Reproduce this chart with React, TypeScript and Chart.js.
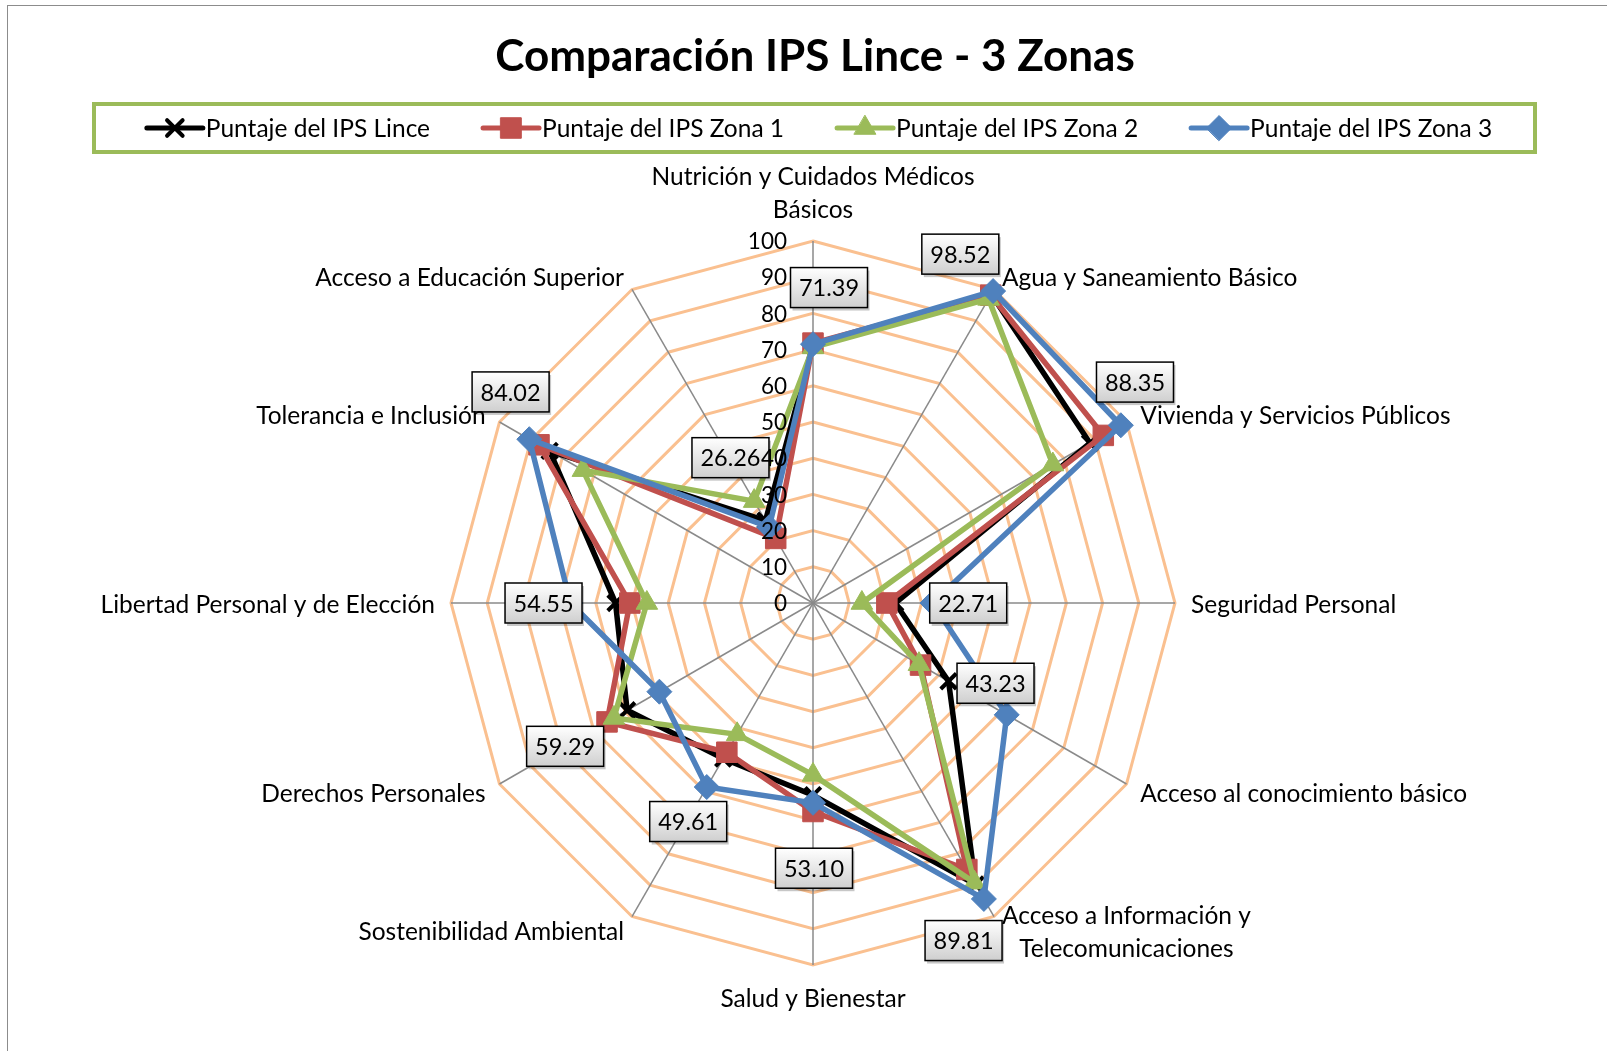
import { useEffect, useRef } from "react";
import { Chart, registerables } from "chart.js";
import { drawPoint } from "chart.js/helpers";

Chart.register(...registerables);

// ---------- data ----------
const titleText = "Comparación IPS Lince - 3 Zonas";

const categories: (string | string[])[] = [
  ["Nutrición y Cuidados Médicos", "Básicos"],
  "Agua y Saneamiento Básico",
  "Vivienda y Servicios Públicos",
  "Seguridad Personal",
  "Acceso al conocimiento básico",
  ["Acceso a Información y", "Telecomunicaciones"],
  "Salud y Bienestar",
  "Sostenibilidad Ambiental",
  "Derechos Personales",
  "Libertad Personal y de Elección",
  "Tolerancia e Inclusión",
  "Acceso a Educación Superior",
];

const seriesNames = [
  "Puntaje del IPS Lince",
  "Puntaje del IPS Zona 1",
  "Puntaje del IPS Zona 2",
  "Puntaje del IPS Zona 3",
];

const linceValues = [71.39, 98.52, 88.35, 22.71, 43.23, 89.81, 53.1, 49.61, 59.29, 54.55, 84.02, 26.26];
const zona1Values = [71.8, 98.2, 92.6, 20.4, 34.3, 85.0, 57.6, 47.6, 65.7, 50.6, 87.4, 20.6];
const zona2Values = [70.6, 97.0, 76.5, 13.5, 33.8, 89.2, 47.5, 41.9, 63.5, 45.9, 73.4, 32.5];
const zona3Values = [71.5, 99.5, 98.2, 33.0, 61.8, 94.4, 55.2, 58.7, 49.0, 67.0, 90.5, 24.2];

const axisMin = 0;
const axisMax = 100;
const axisStep = 10;

// ---------- styles ----------
const FONT = "Lato, 'Open Sans', sans-serif";
const LABEL_SIZE = 24.5;
const VALUE_SIZE = 23.5;
const TICK_SIZE = 22.5;
const TITLE_SIZE = 44;
const seriesColors = ["#000000", "#C0504D", "#9BBB59", "#4F81BD"];
const seriesPointStyles = ["crossRot", "rect", "triangle", "rectRot"];
const seriesPointRadius = [11, 14.5, 12.5, 12.5];
// offsets (px) of the value boxes relative to their point
const labelOffsets: [number, number][] = [
  [16, -57],
  [-31, -40],
  [45, -61],
  [73, 0],
  [47, 2],
  [-12, 56],
  [1, 73],
  [-35, 63],
  [-62, 36],
  [-72, 0],
  [-39, -59],
  [-35, -63],
];

const decorPlugin = {
  id: "decor",
  afterDatasetsDraw(chart: any) {
    const ctx: CanvasRenderingContext2D = chart.ctx;
    const scale = chart.scales.r;
    const meta = chart.getDatasetMeta(0);
    const vals = chart.data.datasets[0].data as number[];
    ctx.save();
    ctx.font = `${VALUE_SIZE}px ${FONT}`;
    meta.data.forEach((pt: any, i: number) => {
      const [dx, dy] = labelOffsets[i];
      const cx = pt.x + dx;
      const cy = pt.y + dy;
      const w = 77;
      const h = 40;
      const x0 = cx - w / 2;
      const y0 = cy - h / 2;
      ctx.fillStyle = "rgba(0,0,0,0.22)";
      ctx.fillRect(x0 + 2, y0 + 3, w, h);
      const g = ctx.createLinearGradient(0, y0, 0, y0 + h);
      g.addColorStop(0, "#ffffff");
      g.addColorStop(1, "#cfcfcf");
      ctx.fillStyle = g;
      ctx.fillRect(x0, y0, w, h);
      ctx.strokeStyle = "#000";
      ctx.lineWidth = 1.5;
      ctx.strokeRect(x0, y0, w, h);
      ctx.fillStyle = "#000";
      ctx.textAlign = "center";
      ctx.textBaseline = "middle";
      ctx.fillText(vals[i].toFixed(2), cx, cy + 1);
    });
    // tick labels (above the series, as in the reference)
    ctx.font = `${TICK_SIZE}px ${FONT}`;
    ctx.textAlign = "right";
    ctx.textBaseline = "middle";
    ctx.fillStyle = "#000";
    scale.ticks.forEach((t: any) => {
      const p = scale.getPointPositionForValue(0, t.value);
      ctx.fillText(String(t.value), scale.xCenter - 26, p.y + 1);
    });
    ctx.restore();
  },
  afterDraw(chart: any) {
    const ctx: CanvasRenderingContext2D = chart.ctx;
    const scale = chart.scales.r;
    ctx.save();
    // point labels
    ctx.font = `${LABEL_SIZE}px ${FONT}`;
    ctx.fillStyle = "#000";
    ctx.textBaseline = "middle";
    const lineH = 33;
    (chart.data.labels as (string | string[])[]).forEach((lab, i) => {
      const lines = Array.isArray(lab) ? lab : [lab];
      const pos = scale.getPointPosition(i, scale.drawingArea + 16);
      const a = scale.getIndexAngle(i);
      const s = Math.sin(a);
      const c = Math.cos(a);
      const blockH = lines.length * lineH;
      const widths = lines.map((l) => ctx.measureText(l).width);
      const maxW = Math.max(...widths);
      let top: number;
      let cxBlock: number;
      if (Math.abs(s) < 0.01) {
        cxBlock = pos.x;
        top = c > 0 ? pos.y - blockH : pos.y;
      } else {
        top = pos.y - blockH / 2;
        cxBlock = s > 0 ? pos.x + maxW / 2 : pos.x - maxW / 2;
      }
      ctx.textAlign = "center";
      lines.forEach((l, k) => {
        ctx.fillText(l, cxBlock, top + lineH * k + lineH / 2 + 2);
      });
    });

    // title
    ctx.font = `bold ${TITLE_SIZE}px ${FONT}`;
    ctx.textAlign = "center";
    ctx.textBaseline = "middle";
    ctx.fillText(titleText, 815, 57);

    // legend
    const box = { l: 94, r: 1535, t: 104, b: 152 };
    ctx.strokeStyle = "#9BBB59";
    ctx.lineWidth = 4;
    ctx.strokeRect(box.l, box.t, box.r - box.l, box.b - box.t);
    ctx.font = `${LABEL_SIZE}px ${FONT}`;
    const segW = 56;
    const gapText = 3;
    const gapItem = 53;
    const ds = chart.data.datasets;
    const itemW = ds.map((d: any) => segW + gapText + ctx.measureText(d.label).width);
    const total = itemW.reduce((a: number, b: number) => a + b, 0) + gapItem * (ds.length - 1);
    let x = (box.l + box.r) / 2 - total / 2 + 5;
    const y = 128;
    ds.forEach((d: any, i: number) => {
      ctx.strokeStyle = d.borderColor;
      ctx.lineWidth = 5;
      ctx.lineCap = "round";
      ctx.beginPath();
      ctx.moveTo(x, y);
      ctx.lineTo(x + segW, y);
      ctx.stroke();
      ctx.fillStyle = d.pointBackgroundColor;
      ctx.strokeStyle = d.pointBorderColor;
      ctx.lineWidth = d.pointBorderWidth;
      drawPoint(ctx, { pointStyle: d.pointStyle, radius: d.pointRadius, borderWidth: d.pointBorderWidth, rotation: 0 } as any, x + segW / 2, y);
      ctx.fillStyle = "#000";
      ctx.textAlign = "left";
      ctx.textBaseline = "middle";
      ctx.fillText(d.label, x + segW + gapText, y + 1);
      x += itemW[i] + gapItem;
    });
    ctx.restore();
  },
};

export default function App() {
  const ref = useRef<HTMLCanvasElement | null>(null);

  useEffect(() => {
    if (!ref.current) return;
    const seriesValues = [linceValues, zona1Values, zona2Values, zona3Values];
    const chart = new Chart(ref.current, {
      type: "radar",
      data: {
        labels: categories as any,
        datasets: seriesValues.map((vals, i) => ({
          label: seriesNames[i],
          data: vals,
          borderColor: seriesColors[i],
          backgroundColor: seriesColors[i],
          borderWidth: 5.5,
          fill: false,
          pointStyle: seriesPointStyles[i] as any,
          pointRadius: seriesPointRadius[i],
          pointBackgroundColor: seriesColors[i],
          pointBorderColor: seriesColors[i],
          pointBorderWidth: i === 0 ? 4 : 1,
          order: seriesValues.length - 1 - i,
        })),
      },
      options: {
        responsive: false,
        animation: false,
        layout: { padding: { left: 451, right: 432, top: 241, bottom: 86 } },
        plugins: {
          legend: { display: false },
          title: { display: false },
          tooltip: { enabled: false },
        },
        elements: { line: { tension: 0 } },
        scales: {
          r: {
            min: axisMin,
            max: axisMax,
            ticks: { display: false, stepSize: axisStep },
            pointLabels: { display: false },
            grid: { color: "#FAC090", lineWidth: 3 },
            angleLines: { color: "#8A8A8A", lineWidth: 1.5 },
          },
        },
      },
      plugins: [decorPlugin],
    });
    return () => chart.destroy();
  }, []);

  return (
    <div style={{ position: "fixed", left: 0, top: 0, width: 1607, height: 1051, overflow: "hidden", background: "#fff" }}>
      <div
        style={{
          position: "absolute",
          left: 7,
          top: 5,
          width: 1800,
          height: 1300,
          borderLeft: "1.5px solid #8c8c8c",
          borderTop: "1.5px solid #8c8c8c",
        }}
      />
      <canvas ref={ref} width={1607} height={1051} style={{ position: "absolute", left: 0, top: 0, width: 1607, height: 1051 }} />
    </div>
  );
}
